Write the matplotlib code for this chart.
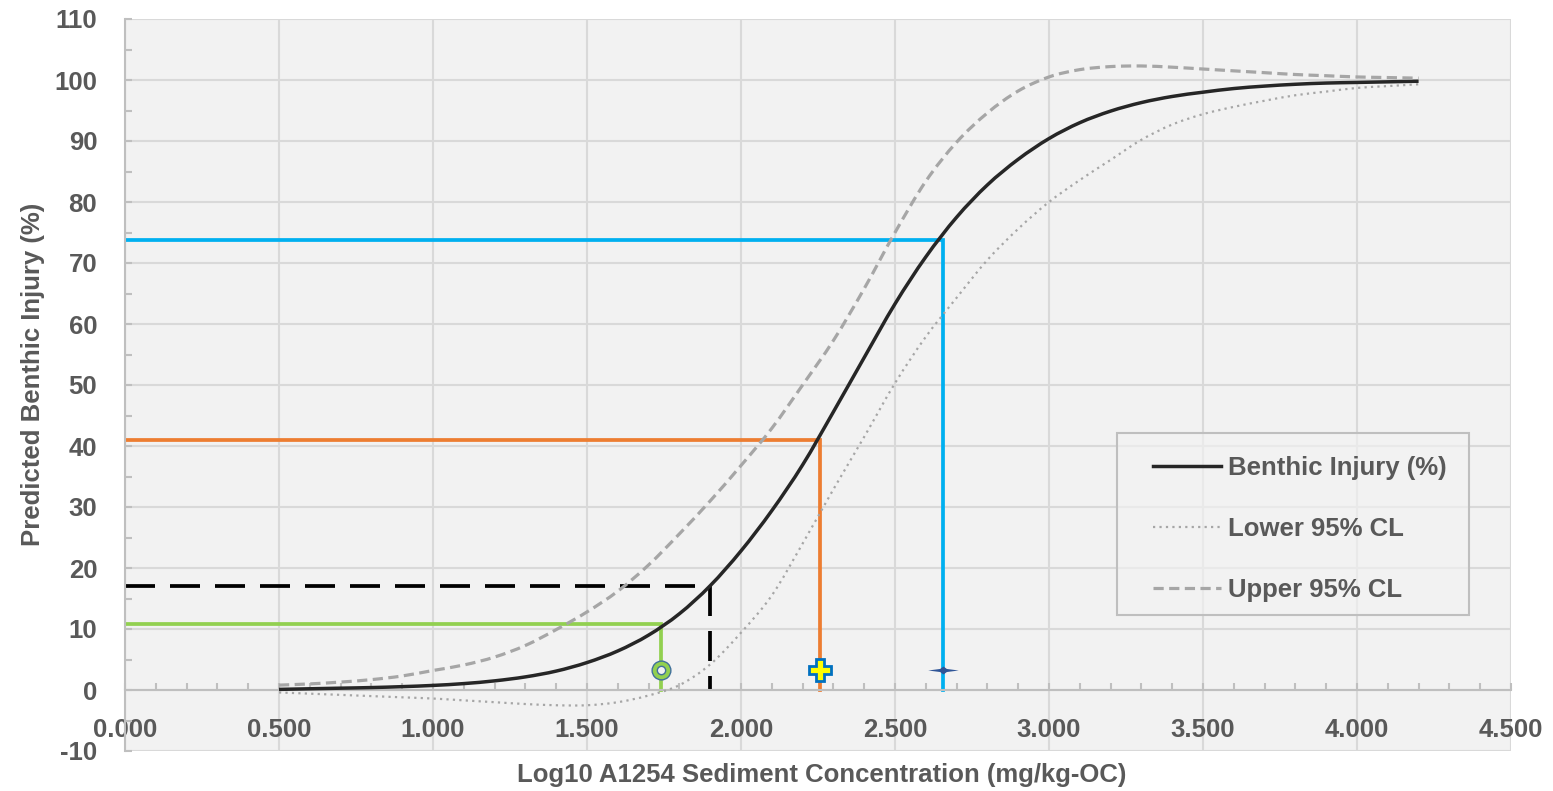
import numpy as np
import matplotlib
matplotlib.use("Agg")
import matplotlib.pyplot as plt
from matplotlib.ticker import MultipleLocator, FormatStrFormatter
from matplotlib.path import Path
from matplotlib.patches import Rectangle, PathPatch

FONT = ['Liberation Sans', 'DejaVu Sans']
plt.rcParams['font.family'] = FONT

# Dose-response curve and its 95% confidence limits
log_conc = [0.5, 0.6, 0.7, 0.8, 0.9, 1.0, 1.1, 1.2, 1.3, 1.4,
            1.5, 1.6, 1.7, 1.8, 1.9, 2.0, 2.1, 2.2, 2.3, 2.4,
            2.5, 2.6, 2.7, 2.8, 2.9, 3.0, 3.1, 3.2, 3.3, 3.4,
            3.5, 3.6, 3.7, 3.8, 3.9, 4.0, 4.1, 4.2]
injury = [0.1, 0.2, 0.3, 0.4, 0.55, 0.75, 1.05, 1.5, 2.15, 3.1,
          4.5, 6.4, 9.0, 12.5, 17.1, 22.8, 29.4, 36.9, 45.6, 54.5,
          63.3, 71.0, 77.5, 82.8, 87.0, 90.4, 93.0, 94.9, 96.3, 97.3,
          98.0, 98.6, 99.0, 99.3, 99.5, 99.6, 99.7, 99.8]
lower_cl = [-0.4, -0.6, -0.8, -1.0, -1.2, -1.4, -1.7, -2.0, -2.3, -2.5,
            -2.5, -2.0, -0.9, 0.8, 4.2, 9.4, 15.5, 24.0, 32.9, 41.5,
            50.3, 57.9, 64.3, 70.5, 75.6, 80.0, 83.6, 86.9, 90.2, 92.7,
            94.4, 95.6, 96.6, 97.5, 98.1, 98.7, 99.0, 99.3]
upper_cl = [0.8, 1.0, 1.3, 1.7, 2.3, 3.2, 4.1, 5.4, 7.3, 9.9,
            12.8, 16.2, 20.5, 25.6, 31.0, 36.8, 42.9, 50.0, 57.3, 65.8,
            75.0, 83.4, 89.8, 94.6, 98.2, 100.5, 101.7, 102.2, 102.3, 102.1,
            101.8, 101.5, 101.2, 100.9, 100.7, 100.5, 100.4, 100.3]

# Drop lines
ref_x = [1.740, 1.898, 2.255, 2.656]
ref_y = [10.9, 17.1, 41.0, 73.8]
marker_y = 3.3

TEXT = '#595959'
AXIS = '#bfbfbf'
GRID = '#d9d9d9'
BG = '#f2f2f2'
FS = 18.5


def smooth_path(xs, ys):
    """Catmull-Rom spline through the points, as cubic Bezier segments."""
    pts = np.column_stack([xs, ys]).astype(float)
    n = len(pts)
    verts = [pts[0]]
    codes = [Path.MOVETO]
    for i in range(n - 1):
        p0 = pts[max(i - 1, 0)]
        p1 = pts[i]
        p2 = pts[i + 1]
        p3 = pts[min(i + 2, n - 1)]
        verts += [p1 + (p2 - p0) / 6, p2 - (p3 - p1) / 6, p2]
        codes += [Path.CURVE4] * 3
    return Path(verts, codes)


fig = plt.figure(figsize=(15.53, 7.91), dpi=100)
ax = fig.add_axes([125 / 1553, 40 / 791, 1386 / 1553, 732 / 791])
ax.set_facecolor(BG)

ax.set_xlim(0, 4.5)
ax.set_ylim(-10, 110)
ax.xaxis.set_major_locator(MultipleLocator(0.5))
ax.xaxis.set_minor_locator(MultipleLocator(0.1))
ax.xaxis.set_major_formatter(FormatStrFormatter('%.3f'))
ax.yaxis.set_major_locator(MultipleLocator(10))
ax.yaxis.set_minor_locator(MultipleLocator(5))
ax.yaxis.set_major_formatter(FormatStrFormatter('%d'))

ax.grid(True, which='major', color=GRID, linewidth=1.5)
ax.set_axisbelow(True)

for side in ('top', 'right'):
    ax.spines[side].set_visible(False)
ax.spines['bottom'].set_position(('data', 0))
for side in ('left', 'bottom'):
    ax.spines[side].set_color(AXIS)
    ax.spines[side].set_linewidth(1.5)

tick_font = dict(family=FONT, weight='bold', size=FS)
ax.tick_params(axis='both', which='both', direction='in', color=AXIS,
               width=1.5, length=5, labelcolor=TEXT)
ax.tick_params(axis='x', which='major', pad=20)
ax.tick_params(axis='y', which='major', pad=20)
for lab in ax.get_xticklabels() + ax.get_yticklabels():
    lab.set_fontproperties(tick_font)

# Reference drop lines
colors = ['#92d050', 'black', '#ed7d31', '#00b0f0']
styles = ['-', (0, (8.0, 4.0)), '-', '-']
for xv, yv, c, ls in zip(ref_x, ref_y, colors, styles):
    ax.plot([0, xv, xv], [yv, yv, 0], color=c, linewidth=2.7, linestyle=ls,
            solid_joinstyle='miter', dash_joinstyle='miter', zorder=2)

# Curves, drawn as smooth splines through the tabulated points
curve_specs = [
    (injury, dict(edgecolor='#262626', linewidth=2.5, linestyle='-'),
     'Benthic Injury (%)'),
    (lower_cl, dict(edgecolor='#a6a6a6', linewidth=1.6, linestyle=(0, (1.0, 1.9))),
     'Lower 95% CL'),
    (upper_cl, dict(edgecolor='#a6a6a6', linewidth=2.3, linestyle=(0, (3.2, 1.7))),
     'Upper 95% CL'),
]
handles = []
for ys, kw, label in curve_specs:
    ax.add_patch(PathPatch(smooth_path(log_conc, ys), facecolor='none',
                           capstyle='butt', zorder=3, **kw))
    h, = ax.plot([], [], color=kw['edgecolor'], linewidth=kw['linewidth'],
                 linestyle=kw['linestyle'], label=label)
    handles.append(h)

# Point markers at the drop lines
ax.plot(ref_x[0], marker_y, 'o', ms=13.5, mfc='#92d050', mec='#41719c', mew=1, zorder=5)
ax.plot(ref_x[0], marker_y, 'o', ms=6, mfc=BG, mec='#41719c', mew=1, zorder=6)
ax.plot(ref_x[2], marker_y, 'P', ms=16.5, mfc='#ffff00', mec='#0070c0', mew=2, zorder=5)
star = Path([(-1, 0), (-0.22, 0.1), (0, 0.26), (0.22, 0.1), (1, 0),
             (0.22, -0.1), (0, -0.26), (-0.22, -0.1), (-1, 0)],
            [Path.MOVETO] + [Path.LINETO] * 7 + [Path.CLOSEPOLY])
ax.plot(ref_x[3], marker_y, marker=star, ms=22, color='#2f5597', mew=0, zorder=5)

# Axis titles
ax.set_xlabel('Log10 A1254 Sediment Concentration (mg/kg-OC)', color=TEXT,
              fontsize=FS, fontweight='bold')
ax.xaxis.set_label_coords(0.503, -0.0328)
ax.xaxis.label.set_verticalalignment('center')
ax.set_ylabel('Predicted Benthic Injury (%)', color=TEXT,
              fontsize=FS, fontweight='bold')
ax.yaxis.set_label_coords(-0.0664, 0.514)
ax.yaxis.label.set_verticalalignment('center')

# Legend box
ax.add_patch(Rectangle((0.716, 0.186), 0.254, 0.248, transform=ax.transAxes,
                       facecolor=(0.95, 0.95, 0.95, 0.65), edgecolor=AXIS,
                       linewidth=1.5, zorder=6))
leg = ax.legend(handles=handles, loc='upper left',
                bbox_to_anchor=(0.7417, 0.4035), frameon=False, borderpad=0,
                borderaxespad=0, handlelength=2.65, handletextpad=0.28,
                labelspacing=1.45,
                prop=dict(family=FONT, weight='bold', size=FS))
leg.set_zorder(7)
for t in leg.get_texts():
    t.set_color(TEXT)

fig.savefig('out.png', dpi=100, facecolor='white')
